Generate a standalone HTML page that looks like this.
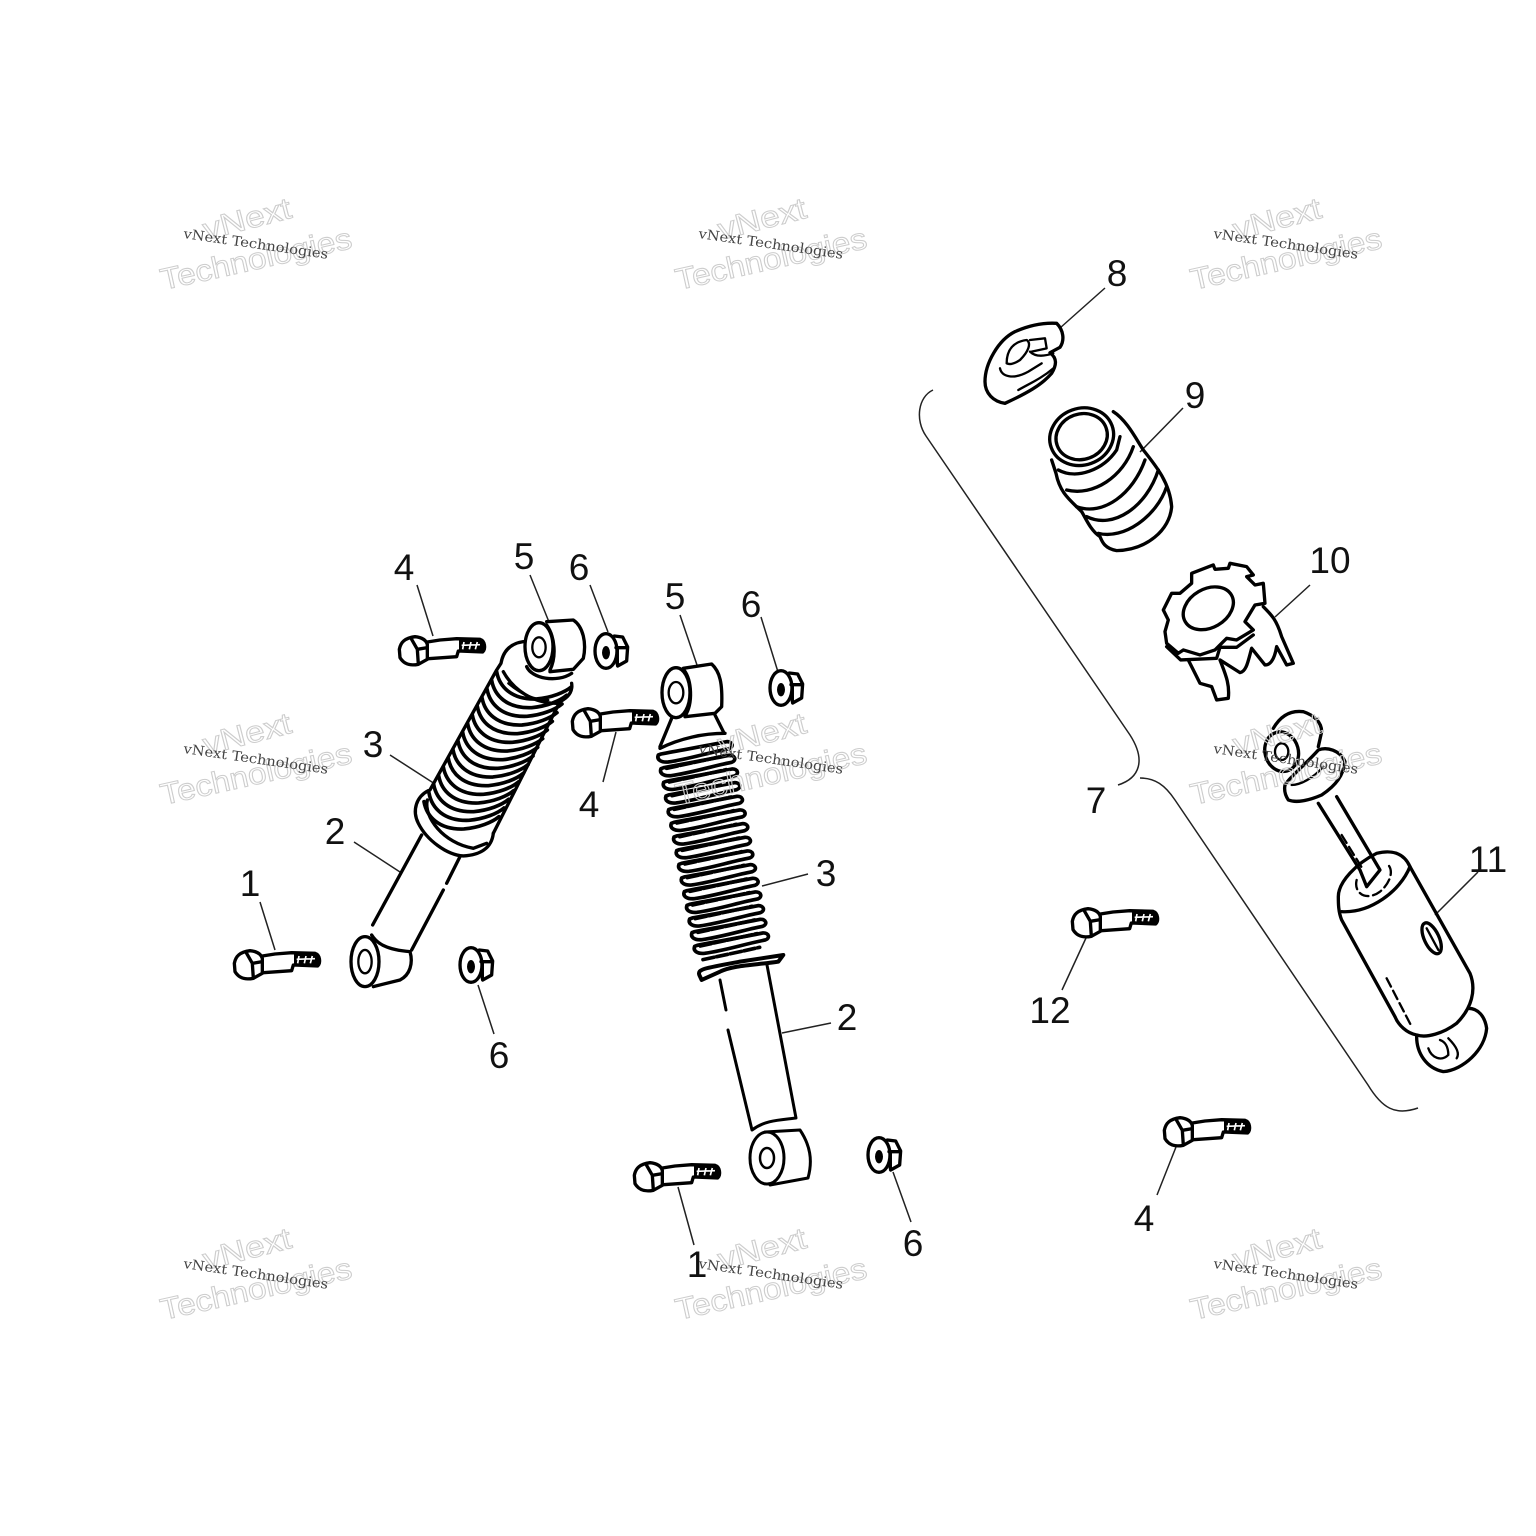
<!DOCTYPE html>
<html>
<head>
<meta charset="utf-8">
<style>
html,body{margin:0;padding:0;background:#fff}
svg{display:block}
.p{fill:none;stroke:#000;stroke-width:10;stroke-linejoin:round;stroke-linecap:round}
.t{stroke-width:7}
.d{stroke-dasharray:28 14}
.l{fill:none;stroke:#222;stroke-width:1.5}
.n{font:37px "Liberation Sans",sans-serif;fill:#111;text-anchor:middle}
.o{font:30px "Liberation Sans",sans-serif;fill:none;stroke:#cdcdcd;stroke-width:1}
.s{font:13.5px "DejaVu Serif",serif;fill:#444}
</style>
</head>
<body>
<svg width="1536" height="1536" viewBox="0 0 1536 1536" xmlns="http://www.w3.org/2000/svg">
<defs>
<g id="bolt">
<path class="p" d="M28,100 C32,78 45,66 75,62 C95,64 108,72 112,85 L112,130 L85,145 C60,150 42,145 30,125 Z M62,65 L82,100 L112,95 M82,100 L85,145"/>
<path class="p" d="M112,78 L150,72 L200,68 L270,70 C285,75 288,98 278,108 L205,105 L200,122 L115,128"/>
<path d="M207,72 L270,72 C285,78 285,102 276,106 L207,103 Z" fill="#000"/>
<path d="M222,78 L218,100 M243,78 L238,100 M262,78 L256,100 M215,88 L270,86" stroke="#fff" stroke-width="5" fill="none"/>
</g>
<g id="nut">
<g transform="scale(.333)">
<ellipse class="p" cx="0" cy="0" rx="33" ry="52"/>
<path class="p" d="M25,-45 L50,-42 L65,-12 L62,30 L35,45 M30,-10 L62,-10 M34,-10 L34,40"/>
<ellipse cx="0" cy="5" rx="12" ry="20" fill="#000"/>
</g>
</g>
<path id="c1" class="p" style="stroke-width:11" d="M0,0 C8,45 45,85 120,82 C165,78 205,62 225,45"/>
<g id="c2">
<path class="p" style="stroke-width:11" d="M0,15 C-6,30 10,38 30,36 C90,28 150,8 212,-4 C228,-10 222,-26 205,-25 C140,-12 70,0 8,12 Z"/>
<path class="p" style="stroke-width:11" d="M25,55 C70,45 120,35 195,18" stroke-dasharray="34 8"/>
</g>
</defs>

<!-- leaders -->
<path class="l" d="M417,585L433,636M530,575L549,622M590,585L608,632M680,615L697,665M761,617L778,672M390,755L435,784M354,842L400,872M260,902L275,950M603,782L616,732M808,874L762,886M831,1023L782,1033M494,1034L478,985M911,1222L893,1172M694,1245L678,1187M1105,288L1060,328M1183,408L1140,452M1310,585L1275,617M1478,872L1435,915M1062,990L1086,938M1157,1195L1176,1147"/>

<!-- brace -->
<path class="l" d="M933,390 C918,397 915,420 926,436 L1130,735 C1146,760 1140,778 1118,785"/>
<path class="l" d="M1140,778 C1155,778 1165,785 1175,800 L1368,1085 C1382,1108 1395,1116 1418,1108"/>

<!-- bolts -->
<use href="#bolt" transform="translate(225,930) scale(.3333)"/>
<use href="#bolt" transform="translate(390,616) scale(.3333)"/>
<use href="#bolt" transform="translate(563,688) scale(.3333)"/>
<use href="#bolt" transform="translate(625,1142) scale(.3333)"/>
<use href="#bolt" transform="translate(1063,888) scale(.3333)"/>
<use href="#bolt" transform="translate(1155,1097) scale(.3333)"/>

<!-- nuts -->
<use href="#nut" transform="translate(471,965)"/>
<use href="#nut" transform="translate(606,651)"/>
<use href="#nut" transform="translate(781,688)"/>
<use href="#nut" transform="translate(879,1155)"/>

<!-- left shock -->
<g transform="translate(340,600) scale(.3333)">
<path class="p" d="M245,705 L98,975"/>
<path class="p" d="M360,770 L320,850 M310,870 L215,1050"/>
<path class="p" d="M95,1005 C110,1030 140,1050 210,1055 C220,1090 210,1125 180,1140 L100,1160"/>
<ellipse class="p" cx="75" cy="1085" rx="42" ry="75"/>
<ellipse class="p t" cx="75" cy="1085" rx="20" ry="35"/>
<path class="p" d="M550,125 C515,130 490,150 483,190 L470,210 M270,570 L470,210 M695,250 C698,270 690,290 660,305 L460,700"/>
<path class="p" d="M490,215 C520,270 580,310 650,310"/>
<path class="p t" d="M505,250 C540,280 580,300 625,300"/>
<path class="p" d="M560,200 C575,235 650,250 695,220"/>
<use href="#c1" x="470" y="215"/><use href="#c1" x="455" y="241"/><use href="#c1" x="441" y="267"/><use href="#c1" x="426" y="293"/><use href="#c1" x="412" y="319"/><use href="#c1" x="397" y="345"/><use href="#c1" x="383" y="371"/><use href="#c1" x="368" y="397"/><use href="#c1" x="354" y="423"/><use href="#c1" x="339" y="449"/><use href="#c1" x="325" y="475"/><use href="#c1" x="310" y="501"/><use href="#c1" x="296" y="527"/><use href="#c1" x="281" y="553"/><use href="#c1" x="267" y="579"/><use href="#c1" x="252" y="605"/>
<path class="p" d="M265,572 C230,590 215,630 235,670 C260,720 320,765 370,768 C420,765 455,745 460,700"/>
<path class="p" d="M262,600 C250,650 310,730 400,745 L440,730"/>
<ellipse class="p" cx="597" cy="140" rx="42" ry="72"/>
<ellipse class="p t" cx="597" cy="142" rx="20" ry="30"/>
<path class="p" d="M620,65 L700,60 C730,80 740,130 730,175 L700,208 L630,215 M620,75 C645,110 650,170 630,210"/>
</g>

<!-- right shock -->
<g transform="translate(640,650) scale(.3333)">
<path class="p" d="M95,205 L60,290 M225,195 L250,245"/>
<path class="p" d="M60,295 C120,265 190,250 255,250"/>
<use href="#c2" x="55" y="300"/><use href="#c2" x="63" y="341"/><use href="#c2" x="71" y="382"/><use href="#c2" x="78" y="423"/><use href="#c2" x="86" y="464"/><use href="#c2" x="94" y="505"/><use href="#c2" x="102" y="546"/><use href="#c2" x="110" y="587"/><use href="#c2" x="117" y="628"/><use href="#c2" x="125" y="669"/><use href="#c2" x="133" y="710"/><use href="#c2" x="141" y="751"/><use href="#c2" x="149" y="792"/><use href="#c2" x="156" y="833"/><use href="#c2" x="164" y="874"/>
<path class="p" style="stroke-width:12" d="M178,975 C172,958 190,955 300,935 L430,915 L415,935 C350,945 280,945 240,965 L185,990 Z"/>
<ellipse class="p" cx="108" cy="128" rx="42" ry="75"/>
<ellipse class="p t" cx="108" cy="128" rx="22" ry="32"/>
<path class="p" d="M130,55 L215,42 C240,65 248,100 245,170 L225,190 L135,200 M132,60 C155,90 160,160 135,198"/>
</g>
<path class="p" style="stroke-width:3" d="M720,980 L726,1010 M728,1030 L752,1130 C765,1120 780,1120 796,1118 L767,965"/>
<ellipse class="p" style="stroke-width:3" cx="767" cy="1158" rx="17" ry="26"/>
<ellipse class="p" style="stroke-width:2.5" cx="767" cy="1158" rx="7" ry="10"/>
<path class="p" style="stroke-width:3" d="M765,1132 L800,1130 C810,1145 813,1160 808,1178 L770,1185"/>

<!-- parts 8 9 10 -->
<g transform="translate(970,310) scale(.3333)">
<path class="p" d="M45,215 C45,160 85,90 135,65 C180,45 225,38 260,40 C280,60 285,90 270,112 L240,128 C262,145 260,165 245,190 C215,225 170,250 105,280 C70,275 45,250 45,215 Z"/>
<path class="p t" d="M110,160 C110,120 130,95 170,90 C185,100 175,125 150,150 C135,160 120,165 110,160 Z"/>
<path class="p t" d="M180,90 L225,85 L230,115 L185,125 M180,125 C195,140 220,140 250,130"/>
<path class="p t" d="M90,175 C95,200 130,210 175,185 L215,160 M145,240 C180,220 215,205 250,175"/>
<ellipse class="p" cx="335" cy="380" rx="97" ry="85" transform="rotate(-20 335 380)"/>
<ellipse class="p" cx="335" cy="380" rx="78" ry="68" transform="rotate(-20 335 380)"/>
<path class="p" d="M430,305 C470,330 500,390 520,420 C560,470 600,520 605,590 C600,660 530,720 440,722 C400,715 395,690 390,680 C360,660 345,620 335,605 C300,570 270,550 258,490 L245,450"/>
<path class="p" d="M265,480 C320,510 400,480 440,420 L450,380"/>
<path class="p" d="M290,540 C370,560 460,500 490,410"/>
<path class="p" d="M320,590 C400,620 490,550 525,450"/>
<path class="p" d="M350,620 C430,660 530,590 565,480"/>
<path class="p" d="M385,670 C460,690 560,620 590,530"/>
<path class="p" d="M580,900 L605,850 L630,850 L665,820 L665,790 L730,765 L735,778 L775,775 L780,760 L830,770 L850,795 L830,800 L855,825 L880,820 L885,880 L855,885 L825,935 L850,960 L800,990 L770,985 L735,1020 L690,1035 L640,1020 L625,1030 L590,1000 L585,965 L595,930 Z"/>
<ellipse class="p" cx="715" cy="895" rx="80" ry="58" transform="rotate(-30 715 895)"/>
<path class="p" d="M590,1010 L632,1050 L740,1045 L750,1012 L800,1012 L850,975"/>
<path class="p" d="M880,890 C905,915 920,930 935,980 L970,1060 L950,1065 L920,1010 C915,1040 905,1065 885,1065 L845,1015 C835,1050 830,1085 810,1088 L750,1050 C765,1090 780,1120 775,1165 L740,1170 L725,1130 L690,1120 L655,1050"/>
</g>

<!-- part 11 -->
<g transform="translate(1190,700) scale(.3333)">
<path class="p" d="M250,85 C270,50 300,30 340,35 C370,45 395,65 395,95 L385,140"/>
<ellipse class="p" cx="275" cy="155" rx="50" ry="60" transform="rotate(-15 275 155)"/>
<ellipse class="p t" cx="275" cy="155" rx="20" ry="25"/>
<path class="p" d="M285,255 C300,230 340,200 385,150 C410,140 450,150 465,185 C460,225 440,255 395,285 C360,300 320,310 295,300 C285,285 282,270 285,255 Z"/>
<path class="p t" d="M305,255 C330,255 370,235 400,200"/>
<path class="p" d="M385,310 L510,510 M440,290 L570,510 L530,560 L510,510"/>
<path class="p t d" d="M455,405 L520,510"/>
<path class="p" d="M445,590 C445,545 500,490 560,460 C600,450 640,455 660,500 L840,820 C860,870 845,925 800,970 C760,1000 710,1015 680,1005 C650,1000 625,975 615,950 L455,660 C445,635 445,610 445,590 Z"/>
<path class="p" d="M455,635 C540,640 630,575 660,500"/>
<path class="p t d" d="M500,540 C490,580 530,605 570,575 C600,550 615,510 590,490"/>
<path class="p t d" d="M590,835 L665,980"/>
<ellipse class="p" cx="725" cy="715" rx="22" ry="50" transform="rotate(-25 725 715)"/>
<path class="p t" d="M710,685 L745,750"/>
<path class="p" d="M680,1010 C680,1060 710,1105 760,1115 C820,1110 885,1050 890,985 C885,950 865,925 835,925"/>
<path class="p t" d="M775,1015 C800,1040 810,1060 800,1075 M715,1045 C725,1075 755,1085 775,1065 C775,1040 765,1025 750,1020"/>
</g>

<!-- labels -->
<text class="n" x="404" y="580">4</text><text class="n" x="524" y="569">5</text><text class="n" x="579" y="580">6</text>
<text class="n" x="675" y="609">5</text><text class="n" x="751" y="617">6</text><text class="n" x="373" y="757">3</text>
<text class="n" x="589" y="817">4</text><text class="n" x="826" y="886">3</text><text class="n" x="335" y="844">2</text>
<text class="n" x="250" y="896">1</text><text class="n" x="847" y="1030">2</text><text class="n" x="499" y="1068">6</text>
<text class="n" x="913" y="1256">6</text><text class="n" x="697" y="1277">1</text><text class="n" x="1117" y="286">8</text>
<text class="n" x="1195" y="408">9</text><text class="n" x="1330" y="573">10</text><text class="n" x="1096" y="813">7</text>
<text class="n" x="1488" y="872">11</text><text class="n" x="1050" y="1023">12</text><text class="n" x="1144" y="1231">4</text>

<!-- watermarks -->
<g>
<g><text class="o" transform="translate(206,240) rotate(-14.5)" textLength="90" lengthAdjust="spacingAndGlyphs">vNext</text><text class="o" transform="translate(163,290) rotate(-12.5)" textLength="195" lengthAdjust="spacingAndGlyphs">Technologies</text><text class="s" transform="translate(183,238) rotate(8.2)" textLength="146" lengthAdjust="spacingAndGlyphs">vNext Technologies</text></g>
<g transform="translate(515,0)"><text class="o" transform="translate(206,240) rotate(-14.5)" textLength="90" lengthAdjust="spacingAndGlyphs">vNext</text><text class="o" transform="translate(163,290) rotate(-12.5)" textLength="195" lengthAdjust="spacingAndGlyphs">Technologies</text><text class="s" transform="translate(183,238) rotate(8.2)" textLength="146" lengthAdjust="spacingAndGlyphs">vNext Technologies</text></g>
<g transform="translate(1030,0)"><text class="o" transform="translate(206,240) rotate(-14.5)" textLength="90" lengthAdjust="spacingAndGlyphs">vNext</text><text class="o" transform="translate(163,290) rotate(-12.5)" textLength="195" lengthAdjust="spacingAndGlyphs">Technologies</text><text class="s" transform="translate(183,238) rotate(8.2)" textLength="146" lengthAdjust="spacingAndGlyphs">vNext Technologies</text></g>
<g transform="translate(0,515)"><text class="o" transform="translate(206,240) rotate(-14.5)" textLength="90" lengthAdjust="spacingAndGlyphs">vNext</text><text class="o" transform="translate(163,290) rotate(-12.5)" textLength="195" lengthAdjust="spacingAndGlyphs">Technologies</text><text class="s" transform="translate(183,238) rotate(8.2)" textLength="146" lengthAdjust="spacingAndGlyphs">vNext Technologies</text></g>
<g transform="translate(515,515)"><text class="o" transform="translate(206,240) rotate(-14.5)" textLength="90" lengthAdjust="spacingAndGlyphs">vNext</text><text class="o" transform="translate(163,290) rotate(-12.5)" textLength="195" lengthAdjust="spacingAndGlyphs">Technologies</text><text class="s" transform="translate(183,238) rotate(8.2)" textLength="146" lengthAdjust="spacingAndGlyphs">vNext Technologies</text></g>
<g transform="translate(1030,515)"><text class="o" transform="translate(206,240) rotate(-14.5)" textLength="90" lengthAdjust="spacingAndGlyphs">vNext</text><text class="o" transform="translate(163,290) rotate(-12.5)" textLength="195" lengthAdjust="spacingAndGlyphs">Technologies</text><text class="s" transform="translate(183,238) rotate(8.2)" textLength="146" lengthAdjust="spacingAndGlyphs">vNext Technologies</text></g>
<g transform="translate(0,1030)"><text class="o" transform="translate(206,240) rotate(-14.5)" textLength="90" lengthAdjust="spacingAndGlyphs">vNext</text><text class="o" transform="translate(163,290) rotate(-12.5)" textLength="195" lengthAdjust="spacingAndGlyphs">Technologies</text><text class="s" transform="translate(183,238) rotate(8.2)" textLength="146" lengthAdjust="spacingAndGlyphs">vNext Technologies</text></g>
<g transform="translate(515,1030)"><text class="o" transform="translate(206,240) rotate(-14.5)" textLength="90" lengthAdjust="spacingAndGlyphs">vNext</text><text class="o" transform="translate(163,290) rotate(-12.5)" textLength="195" lengthAdjust="spacingAndGlyphs">Technologies</text><text class="s" transform="translate(183,238) rotate(8.2)" textLength="146" lengthAdjust="spacingAndGlyphs">vNext Technologies</text></g>
<g transform="translate(1030,1030)"><text class="o" transform="translate(206,240) rotate(-14.5)" textLength="90" lengthAdjust="spacingAndGlyphs">vNext</text><text class="o" transform="translate(163,290) rotate(-12.5)" textLength="195" lengthAdjust="spacingAndGlyphs">Technologies</text><text class="s" transform="translate(183,238) rotate(8.2)" textLength="146" lengthAdjust="spacingAndGlyphs">vNext Technologies</text></g>
</g>
</svg>
</body>
</html>
